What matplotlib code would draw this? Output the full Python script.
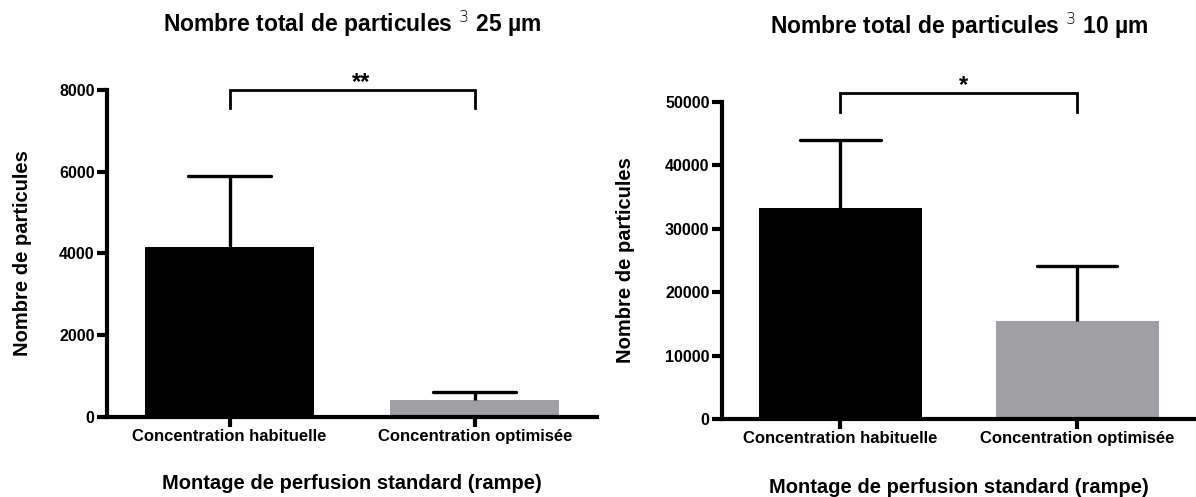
import matplotlib.pyplot as plt

plt.rcParams['font.family'] = ['Liberation Sans', 'DejaVu Sans']
plt.rcParams['font.weight'] = 'bold'
plt.rcParams['mathtext.fontset'] = 'custom'
plt.rcParams['mathtext.rm'] = 'DejaVu Sans:light'

# ------------------------------- Data -----------------------------------------
categories = ['Concentration habituelle', 'Concentration optimisée']
colors = ['#000000', '#a09fa4']

mean_25 = [4150, 420]
err_25 = [1740, 190]
mean_10 = [33200, 15500]
err_10 = [10800, 8600]

titles = [r'Nombre total de particules $^{\mathrm{3}}$ 25 µm',
          r'Nombre total de particules $^{\mathrm{3}}$ 10 µm']
stars = ['**', '*']

fig = plt.figure(figsize=(11.96, 4.97), dpi=100)

ax1 = fig.add_axes([0.0895, 0.161, 0.41, 0.658])
ax2 = fig.add_axes([0.6037, 0.157, 0.396, 0.638])


def draw_panel(ax, means, errs, ymax, yticks, title, title_y, star, br_y, br_drop,
               ylab_x, xlab_y):
    x = [0, 1]
    ax.bar(x, means, width=0.69, color=colors, zorder=2)
    # upper error bars only
    tops = [m + e for m, e in zip(means, errs)]
    ax.vlines(x, means, tops, color='black', lw=2.4, zorder=3)
    ax.hlines(tops, [i - 0.17 for i in x], [i + 0.17 for i in x],
              color='black', lw=2.4, zorder=3, capstyle='round')
    ax.set_xlim(-0.5, 1.5)
    ax.set_ylim(0, ymax)
    ax.set_yticks(yticks)
    ax.set_xticks(x)
    ax.set_xticklabels(categories, fontsize=12, fontweight='bold')
    for lab in ax.get_yticklabels():
        lab.set_fontsize(11.5)
        lab.set_fontweight('bold')
    ax.spines['top'].set_visible(False)
    ax.spines['right'].set_visible(False)
    ax.spines['left'].set_linewidth(3)
    ax.spines['bottom'].set_linewidth(3)
    ax.tick_params(axis='both', width=3, length=7, pad=2)
    ax.set_ylabel('Nombre de particules', fontsize=14.5, fontweight='bold', va='center')
    ax.yaxis.set_label_coords(ylab_x, 0.5)
    ax.set_xlabel('Montage de perfusion standard (rampe)', fontsize=14.5,
                  fontweight='bold', va='center')
    ax.xaxis.set_label_coords(0.5, xlab_y)
    pos = ax.get_position()
    fig.text((pos.x0 + pos.x1) / 2, title_y, title, fontsize=16.5, fontweight='bold',
             ha='center', va='baseline')

    # significance bracket
    ax.plot([0, 0, 1, 1], [br_y - br_drop, br_y, br_y, br_y - br_drop],
            color='black', lw=2, clip_on=False, solid_joinstyle='miter')
    ax.annotate(star, xy=(0.5, br_y), xytext=(0, 1), textcoords='offset points',
                ha='left', va='baseline', fontsize=17, fontweight='bold',
                annotation_clip=False)


draw_panel(ax1, mean_25, err_25, 8000, [0, 2000, 4000, 6000, 8000],
           titles[0], 0.936, stars[0], 8000, 450, -0.173, -0.202)
draw_panel(ax2, mean_10, err_10, 50000, [0, 10000, 20000, 30000, 40000, 50000],
           titles[1], 0.932, stars[1], 51400, 3000, -0.203, -0.215)

fig.savefig('out.png', dpi=100)
